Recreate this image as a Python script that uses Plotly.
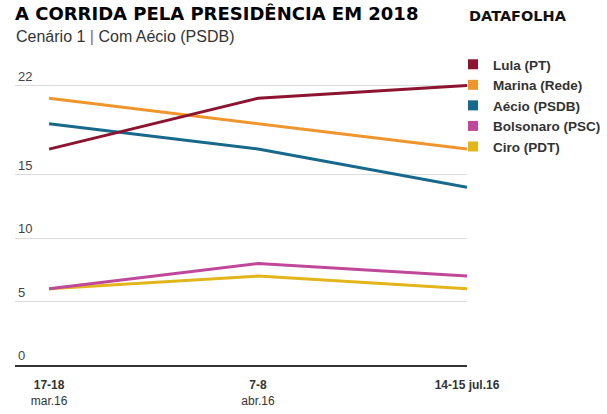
import plotly.graph_objects as go

# ---- data ----
periods = ["17-18 mar.16", "7-8 abr.16", "14-15 jul.16"]
tick_text = ["<b>17-18</b><br>mar.16", "<b>7-8</b><br>abr.16", "<b>14-15 jul.16</b>"]
candidates = ["Lula (PT)", "Marina (Rede)", "Aécio (PSDB)", "Bolsonaro (PSC)", "Ciro (PDT)"]
lula = [17, 21, 22]
marina = [21, 19, 17]
aecio = [19, 17, 14]
bolsonaro = [6, 8, 7]
ciro = [6, 7, 6]
y_ticks = [0, 5, 10, 15, 22]

series = [lula, marina, aecio, bolsonaro, ciro]
colors = ["#8c1430", "#f0952c", "#17698c", "#c0489a", "#e2b51b"]

W, H = 607, 414
ML, MR, MT, MB = 15, 140, 60, 49
PW = W - ML - MR
PH = H - MT - MB
Y_MAX = PH / 12.7

def px_x(px):
    return (px - ML) / PW

def px_y(py):
    return (H - MB - py) / PH

fig = go.Figure()
xs = list(range(len(periods)))
for name, vals, col in reversed(list(zip(candidates, series, colors))):
    fig.add_trace(go.Scatter(x=xs, y=vals, mode="lines", name=name,
                             line=dict(color=col, width=3), showlegend=False,
                             hoverinfo="x+y+name"))
for name, col in zip(candidates, colors):
    fig.add_trace(go.Scatter(x=[None], y=[None], mode="markers", name=name,
                             marker=dict(symbol="square", size=10, color=col),
                             showlegend=True))

fig.update_layout(
    width=W, height=H,
    margin=dict(l=ML, r=MR, t=MT, b=MB, autoexpand=False),
    paper_bgcolor="white", plot_bgcolor="white",
    font=dict(family="Liberation Sans, Arial, sans-serif", color="#333"),
    title=dict(text="A CORRIDA PELA PRESIDÊNCIA EM 2018",
               font=dict(size=18, color="#000", weight="bold",
                         family="DejaVu Sans, Verdana, sans-serif"),
               x=15 / W, xref="container", xanchor="left",
               y=1 - 13.5 / H, yref="container", yanchor="middle"),
    legend=dict(x=px_x(453), xanchor="left", y=px_y(49), yanchor="top",
                font=dict(size=13.5, color="#333", weight="bold"),
                bgcolor="rgba(0,0,0,0)", itemclick=False, itemdoubleclick=False),
    xaxis=dict(range=[-0.163, 2.0], tickvals=xs, ticktext=tick_text,
               showgrid=False, zeroline=False, showline=True,
               linecolor="#333", linewidth=1.5, ticks="",
               ticklabelstandoff=8,
               tickfont=dict(size=12, color="#333")),
    yaxis=dict(range=[0, Y_MAX], tickvals=y_ticks, showgrid=True,
               gridcolor="#dcdcdc", gridwidth=1, zeroline=False,
               showline=False, ticks="", ticklabelposition="inside top",
               tickfont=dict(size=13, color="#444")),
    showlegend=True,
)

fig.add_annotation(text="Cenário 1 <span style='color:#8a6a60'>|</span> Com Aécio (PSDB)",
                   xref="paper", yref="paper", x=px_x(14), y=px_y(36),
                   xanchor="left", yanchor="middle", showarrow=False,
                   font=dict(size=16, color="#333"))
fig.add_annotation(text="<b>DATAFOLHA</b>",
                   xref="paper", yref="paper", x=px_x(467), y=px_y(16),
                   xanchor="left", yanchor="middle", showarrow=False,
                   font=dict(size=14.5, color="#111", family="DejaVu Sans, Verdana, sans-serif"))

fig.write_html("out.html")
